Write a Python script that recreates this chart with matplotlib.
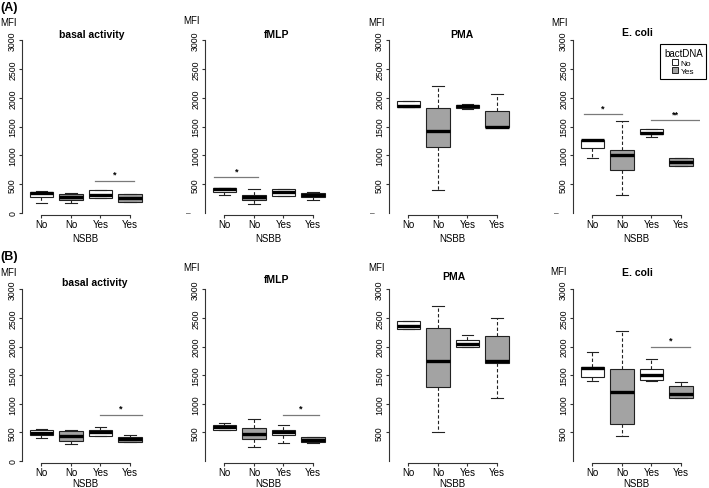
import matplotlib.pyplot as plt
from matplotlib.patches import Patch
from matplotlib.transforms import blended_transform_factory

plt.rcParams['font.family'] = ['Liberation Sans', 'DejaVu Sans']
NARROW = ['Liberation Sans Narrow', 'Liberation Sans', 'DejaVu Sans']

# ---- data ----
panels = ["basal activity", "fMLP", "PMA", "E. coli"]
nsbb = ["No", "No", "Yes", "Yes"]
bactdna = ["No", "Yes", "No", "Yes"]

# row (A): per panel, per box (NSBB No/bactDNA No, No/Yes, Yes/No, Yes/Yes)
a_lo = [[180, 170, 255, 190], [310, 160, 300, 220], [1840, 400, 1810, 1490], [950, 320, 1320, 820]]
a_q1 = [[280, 225, 255, 190], [370, 230, 300, 270], [1840, 1140, 1820, 1490], [1130, 740, 1370, 820]]
a_med = [[345, 285, 320, 255], [410, 280, 360, 310], [1850, 1430, 1850, 1500], [1260, 1000, 1390, 880]]
a_q3 = [[370, 330, 395, 330], [430, 320, 420, 340], [1940, 1830, 1880, 1770], [1270, 1100, 1450, 950]]
a_hi = [[380, 345, 395, 330], [440, 420, 420, 360], [1940, 2200, 1900, 2060], [1270, 1600, 1450, 950]]
# significance bars: (panel, from, to, level, label)
a_sig = [(0, 2.8, 4.15, 560, "*"), (1, 0.65, 2.15, 620, "*"),
         (3, 0.7, 2.0, 1720, "*"), (3, 3.0, 4.6, 1610, "**")]

# row (B)
b_lo = [[410, 290, 440, 340], [550, 240, 310, 320], [2300, 500, 2000, 1110], [1400, 440, 1400, 1100]]
b_q1 = [[450, 350, 440, 340], [550, 380, 450, 330], [2300, 1300, 2000, 1710], [1460, 645, 1410, 1100]]
b_med = [[490, 440, 510, 380], [600, 480, 500, 360], [2360, 1750, 2050, 1750], [1630, 1200, 1510, 1170]]
b_q3 = [[540, 520, 550, 420], [630, 570, 550, 420], [2440, 2330, 2110, 2190], [1640, 1600, 1600, 1310]]
b_hi = [[560, 545, 600, 450], [660, 740, 630, 420], [2440, 2710, 2200, 2500], [1900, 2270, 1780, 1380]]
b_sig = [(0, 3.0, 4.4, 810, "*"), (1, 3.0, 4.2, 810, "*"), (3, 3.0, 4.3, 2000, "*")]

fill = {"No": "white", "Yes": "#a3a3a3"}

W, H = 709, 489
fig = plt.figure(figsize=(W / 100, H / 100), dpi=100)


def px_rect(left, top, w, h):
    return [left / W, 1 - (top + h) / H, w / W, h / H]


col_left = [22, 205, 389, 573]
unit = 29.5
ylo, yhi = -40, 3050


def draw_row(lo, q1, med, q3, hi, sig, zero_px, scale, row, title_pos, mfi_pos, label_y, xlab_y):
    top = zero_px - yhi * scale
    height = (yhi - ylo) * scale
    for p in range(4):
        ax = fig.add_axes(px_rect(col_left[p], top, 4.32 * unit, height))
        stats = []
        for i in range(4):
            stats.append(dict(whislo=lo[p][i], q1=q1[p][i], med=med[p][i],
                              q3=q3[p][i], whishi=hi[p][i], fliers=[]))
        bp = ax.bxp(stats, positions=[1, 2, 3, 4], widths=0.8, capwidths=0.4,
                    patch_artist=True, showfliers=False,
                    boxprops=dict(linewidth=0.8, edgecolor='#222222'),
                    medianprops=dict(color='black', linewidth=2.4, solid_capstyle='butt'),
                    whiskerprops=dict(color='#222222', linewidth=0.8, linestyle=(0, (3, 2))),
                    capprops=dict(color='#222222', linewidth=0.8))
        for patch, b in zip(bp['boxes'], bactdna):
            patch.set_facecolor(fill[b])

        ax.set_xlim(0.34, 4.66)
        ax.set_ylim(ylo, yhi)
        for s in ['top', 'right']:
            ax.spines[s].set_visible(False)
        ax.spines['left'].set_bounds(0, 3000)
        ax.spines['bottom'].set_bounds(1, 4)
        for s in ['left', 'bottom']:
            ax.spines[s].set_color('#333333')
            ax.spines[s].set_linewidth(0.8)

        ax.set_xticks([1, 2, 3, 4])
        ax.set_xticklabels(nsbb, family=NARROW, fontsize=7)
        if p == 0:
            yt = [0, 500, 1000, 1500, 2000, 2500, 3000]
        else:
            yt = [500, 1000, 1500, 2000, 2500, 3000]
        ax.set_yticks(yt)
        ax.set_yticklabels([str(v) for v in yt], family=NARROW, fontsize=6.3,
                           rotation=90, va='center')
        if p > 0 and row == 'A':
            ax.text(-0.13, 0, '–', transform=blended_transform_factory(ax.transAxes, ax.transData),
                    ha='center', va='center', fontsize=6)
        ax.tick_params(axis='y', length=2.5, width=0.8, color='#333333', pad=1)
        ax.tick_params(axis='x', length=2.5, width=0.8, color='#333333', pad=0.5)
        fig.text((col_left[p] + (2.5 - 0.34) * unit) / W, 1 - xlab_y / H, 'NSBB',
                 ha='center', va='center', family=NARROW, fontsize=7)

        for (sp, x0, x1, yv, lab) in sig:
            if sp == p:
                ax.plot([x0, x1], [yv, yv], color='#7a7a7a', linewidth=0.9)
                ax.text((x0 + x1) / 2, yv + 110, lab, ha='center', va='center',
                        fontsize=6.5, fontweight='bold')

        tx, ty = title_pos[p]
        fig.text(tx / W, 1 - ty / H, panels[p], ha='center', va='center',
                 fontsize=7.5, fontweight='bold')
        mx, my = mfi_pos[p]
        fig.text(mx / W, 1 - my / H, 'MFI', ha='left', va='center',
                 family=NARROW, fontsize=7)
    fig.text(0, 1 - label_y / H, '(' + row + ')', ha='left', va='center',
             fontsize=9, fontweight='bold')


draw_row(a_lo, a_q1, a_med, a_q3, a_hi, a_sig, 214, 0.0576, 'A',
         [(92, 35), (277, 35), (462, 35), (637, 33)],
         [(0, 23), (183, 21), (368, 23), (551, 23)], 8, 239)
draw_row(b_lo, b_q1, b_med, b_q3, b_hi, b_sig, 462, 0.0572, 'B',
         [(95, 283), (277, 280), (454, 277), (637, 273)],
         [(0, 273), (183, 268), (368, 268), (550, 272)], 257, 484)

handles = [Patch(facecolor=fill[k], edgecolor='#222222', linewidth=0.7) for k in ["No", "Yes"]]
leg = fig.legend(handles, ["No", "Yes"], title='bactDNA', loc='upper left',
                 bbox_to_anchor=(656 / W, 1 - 41 / H), fontsize=6, title_fontsize=7,
                 handlelength=0.7, handleheight=0.7, handletextpad=0.3, borderpad=0.45,
                 labelspacing=0.1, fancybox=False, framealpha=1)
leg.get_frame().set_edgecolor('black')
leg.get_frame().set_linewidth(0.8)

fig.savefig('out.png', dpi=100)
